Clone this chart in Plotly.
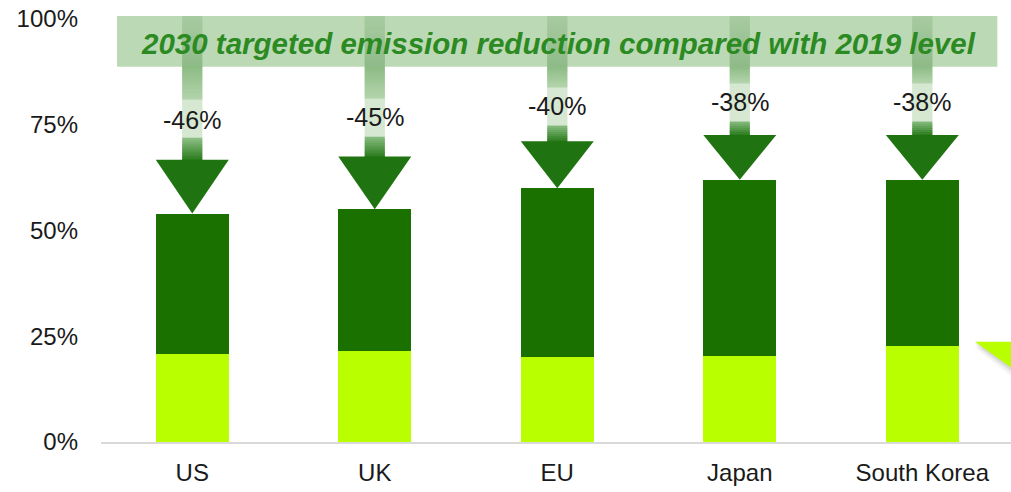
import plotly.graph_objects as go

# ---- data ---------------------------------------------------------------
countries = ["US", "UK", "EU", "Japan", "South Korea"]
reduction_pct = [46, 45, 40, 38, 38]            # 2030 target cut vs 2019 level
base_share = [20.8, 21.6, 20.2, 20.4, 22.6]     # lower (light green) segment
tick_vals = [0, 25, 50, 75, 100]
tick_text = ["0%", "25%", "50%", "75%", "100%"]
banner_text = "2030 targeted emission reduction compared with 2019 level"

# remaining emissions in 2030 = 100% - targeted cut
remaining = [100 - r for r in reduction_pct]
upper_share = [t - b for t, b in zip(remaining, base_share)]

# ---- styling constants ----------------------------------------------------
DARK = "#1b7100"
LIGHT = "#b9ff00"
HEAD = "#1f7411"
BANNER_FILL = "#bcd9b5"
BANNER_TOP = 100.7
BANNER_BOTTOM = 88.7
BAR_W = 0.4
SHAFT_W = 0.11
FONT = "Liberation Sans, Arial, sans-serif"


def hex_rgb(h):
    h = h.lstrip("#")
    return tuple(int(h[k:k + 2], 16) for k in (0, 2, 4))


def mix(c1, c2, t):
    a, b = hex_rgb(c1), hex_rgb(c2)
    t = max(0.0, min(1.0, t))
    return "rgb({},{},{})".format(*[round(a[k] + (b[k] - a[k]) * t) for k in range(3)])


fig = go.Figure()
fig.add_trace(go.Bar(x=countries, y=base_share, marker=dict(color=LIGHT, line=dict(width=0)),
                     width=BAR_W, hoverinfo="skip", showlegend=False))
fig.add_trace(go.Bar(x=countries, y=upper_share, marker=dict(color=DARK, line=dict(width=0)),
                     width=BAR_W, hoverinfo="skip", showlegend=False))

shapes = []
# translucent banner across the top
shapes.append(dict(type="rect", xref="paper", yref="y", x0=0.0176, x1=0.985,
                   y0=BANNER_BOTTOM, y1=BANNER_TOP, fillcolor=BANNER_FILL,
                   line=dict(width=0), layer="above"))

annotations = []
for i, (name, cut, top) in enumerate(zip(countries, reduction_pct, remaining)):
    length = BANNER_TOP - top
    head_base = top + 0.273 * length
    label_y = top + 0.476 * length
    band_lo, band_hi = label_y - 4.5, label_y + 4.5

    # gradient shaft built from thin overlapping slices, drawn top-down
    step = 0.5
    slices = []
    y = head_base - 0.3
    while y < BANNER_TOP - 1e-6:
        y1 = min(y + step, BANNER_TOP)
        ym = (y + y1) / 2
        if ym < band_lo:
            col = mix("#2b7c1d", "#8cbf84", (ym - head_base) / max(band_lo - head_base, 0.1))
        elif ym <= band_hi:
            col = "rgb(214,232,209)"
        elif ym < BANNER_BOTTOM:
            col = mix("#b4d4ac", "#8cbc84", (ym - band_hi) / max(BANNER_BOTTOM - band_hi, 0.1))
        else:
            col = mix("#8fbb88", "#a8cba1", (ym - BANNER_BOTTOM) / (BANNER_TOP - BANNER_BOTTOM))
        slices.append((y, y1, col))
        y = y1
    for y0, y1, col in reversed(slices):
        shapes.append(dict(type="rect", xref="x", yref="y",
                           x0=i - SHAFT_W / 2, x1=i + SHAFT_W / 2,
                           y0=max(y0 - 0.35, head_base - 0.3), y1=y1, fillcolor=col,
                           line=dict(width=0), layer="above"))

    # arrow head pointing at the top of the bar
    shapes.append(dict(type="path", xref="x", yref="y",
                       path=f"M {i - BAR_W / 2},{head_base} L {i + BAR_W / 2},{head_base} L {i},{top} Z",
                       fillcolor=HEAD, line=dict(width=0), layer="above"))

    annotations.append(dict(x=i, y=label_y, xref="x", yref="y", text=f"-{cut}%",
                            showarrow=False, font=dict(family=FONT, size=25, color="#1a1a1a")))

# small decorative wedge at the right edge, with a soft shadow
for k, a in enumerate([0.03, 0.05, 0.08]):
    off = (3 - k) * 0.5
    shapes.append(dict(type="path", xref="paper", yref="y",
                       path=f"M 0.9604,{23.7 - off} L 1.0,{23.7 - off} L 1.0,{17.6 - off * 1.4} Z",
                       fillcolor=f"rgba(0,0,0,{a})", line=dict(width=0), layer="above"))
shapes.append(dict(type="path", xref="paper", yref="y",
                   path="M 0.9604,23.7 L 1.0,23.7 L 1.0,17.6 Z",
                   fillcolor=LIGHT, line=dict(width=0), layer="above"))

annotations.append(dict(x=0.503, y=(BANNER_TOP + BANNER_BOTTOM) / 2 - 0.4, xref="paper", yref="y",
                        text=f"<b><i>{banner_text}</i></b>", showarrow=False,
                        font=dict(family=FONT, size=29.5, color="#2b8a22")))

fig.update_layout(
    width=1011, height=492,
    margin=dict(l=101, r=0, t=0, b=49.5),
    paper_bgcolor="white", plot_bgcolor="white",
    barmode="stack", bargap=0,
    shapes=shapes, annotations=annotations,
    xaxis=dict(range=[-0.5, 4.486], showgrid=False, zeroline=False, showline=True,
               linecolor="#d9d9d9", linewidth=1.5, ticks="",
               tickfont=dict(family=FONT, size=24, color="#1a1a1a"), ticklabelstandoff=8),
    yaxis=dict(range=[0, 104.5], tickvals=tick_vals, ticktext=tick_text, showgrid=False,
               zeroline=False, showline=False, ticks="",
               tickfont=dict(family=FONT, size=24, color="#1a1a1a"), ticklabelstandoff=22),
)

fig.write_html("out.html")
